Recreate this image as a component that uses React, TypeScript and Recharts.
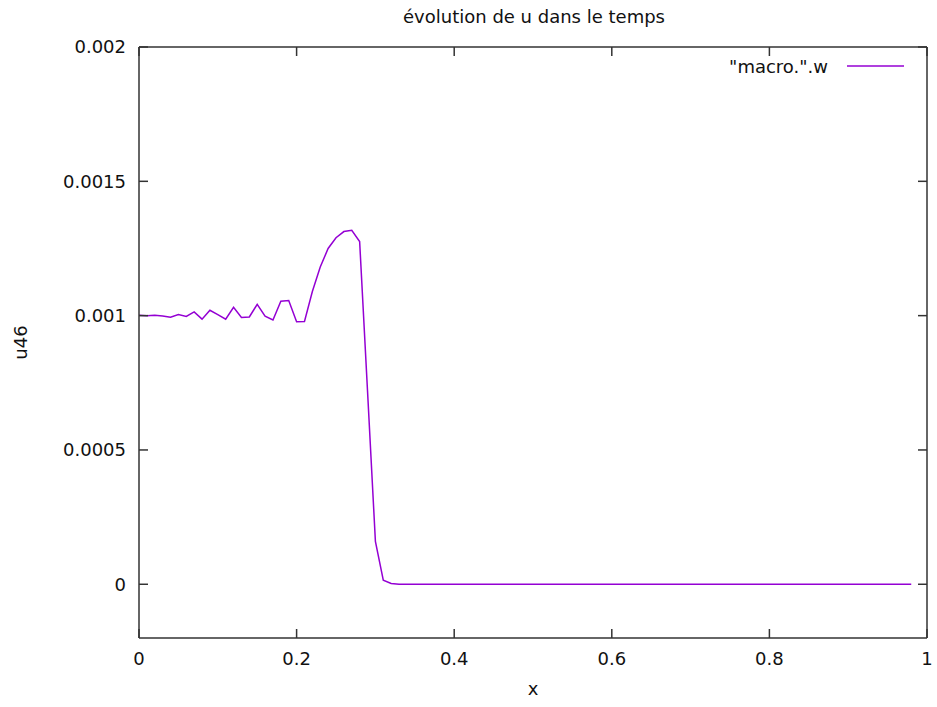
import React from 'react';
import { LineChart, Line, XAxis, YAxis, Label } from 'recharts';

const xValues = [
  0, 0.01, 0.02, 0.03, 0.04, 0.05, 0.06, 0.07, 0.08, 0.09,
  0.1, 0.11, 0.12, 0.13, 0.14, 0.15, 0.16, 0.17, 0.18, 0.19,
  0.2, 0.21, 0.22, 0.23, 0.24, 0.25, 0.26, 0.27, 0.28, 0.29,
  0.3, 0.31, 0.32, 0.33, 0.34, 0.35, 0.36, 0.37, 0.38, 0.39,
  0.4, 0.41, 0.42, 0.43, 0.44, 0.45, 0.46, 0.47, 0.48, 0.49,
  0.5, 0.51, 0.52, 0.53, 0.54, 0.55, 0.56, 0.57, 0.58, 0.59,
  0.6, 0.61, 0.62, 0.63, 0.64, 0.65, 0.66, 0.67, 0.68, 0.69,
  0.7, 0.71, 0.72, 0.73, 0.74, 0.75, 0.76, 0.77, 0.78, 0.79,
  0.8, 0.81, 0.82, 0.83, 0.84, 0.85, 0.86, 0.87, 0.88, 0.89,
  0.9, 0.91, 0.92, 0.93, 0.94, 0.95, 0.96, 0.97, 0.98,
];

const uValues = [
  0.001001, 0.001, 0.001001, 0.000999, 0.000994, 0.001004, 0.000997, 0.001014, 0.000987, 0.00102,
  0.001004, 0.000987, 0.001031, 0.000993, 0.000995, 0.001042, 0.000998, 0.000984, 0.001054, 0.001056,
  0.000977, 0.000978, 0.00109, 0.001181, 0.00125, 0.00129, 0.001313, 0.001318, 0.001276, 0.00072,
  0.00016, 0.000015, 0.000003, 0, 0, 0, 0, 0, 0, 0,
  0, 0, 0, 0, 0, 0, 0, 0, 0, 0,
  0, 0, 0, 0, 0, 0, 0, 0, 0, 0,
  0, 0, 0, 0, 0, 0, 0, 0, 0, 0,
  0, 0, 0, 0, 0, 0, 0, 0, 0, 0,
  0, 0, 0, 0, 0, 0, 0, 0, 0, 0,
  0, 0, 0, 0, 0, 0, 0, 0, 0,
];

const xTicks = [0, 0.2, 0.4, 0.6, 0.8, 1];
const yTicks = [0, 0.0005, 0.001, 0.0015, 0.002];

const data = xValues.map((x, i) => ({ x, u: uValues[i] }));

const FONT = 'DejaVu Sans';
const FS = 18;
const INK = '#111';
const BORDER = '#333';
const LINE_COLOR = '#9400d3';
const TICK = 9;

const BottomTick = (props: any) => {
  const { x, y, payload } = props;
  return (
    <g>
      <line x1={x} y1={y} x2={x} y2={y - TICK} stroke={BORDER} strokeWidth={1.5} />
      <text x={x} y={y + 21} dy="0.35em" textAnchor="middle" fontFamily={FONT} fontSize={FS} fill={INK}>
        {String(payload.value)}
      </text>
    </g>
  );
};

const TopTick = (props: any) => {
  const { x, y } = props;
  return <line x1={x} y1={y} x2={x} y2={y + TICK} stroke={BORDER} strokeWidth={1.5} />;
};

const LeftTick = (props: any) => {
  const { x, y, payload } = props;
  return (
    <g>
      <line x1={x} y1={y} x2={x + TICK} y2={y} stroke={BORDER} strokeWidth={1.5} />
      <text x={x - 13} y={y} dy="0.35em" textAnchor="end" fontFamily={FONT} fontSize={FS} fill={INK}>
        {String(payload.value)}
      </text>
    </g>
  );
};

const RightTick = (props: any) => {
  const { x, y } = props;
  return <line x1={x} y1={y} x2={x - TICK} y2={y} stroke={BORDER} strokeWidth={1.5} />;
};

export default function App() {
  return (
    <div style={{ position: 'absolute', left: 0, top: 0, width: 937, height: 707, background: '#fff' }}>
      <LineChart width={937} height={707} data={data} margin={{ top: 0, right: 0, bottom: 0, left: 0 }}>
        <XAxis
          dataKey="x"
          type="number"
          domain={[0, 1]}
          ticks={xTicks}
          height={69}
          tickSize={0}
          tickMargin={0}
          tick={<BottomTick />}
          axisLine={{ stroke: BORDER, strokeWidth: 1.5 }}
          allowDataOverflow
        >
          <Label
            content={(p: any) => (
              <text x={p.viewBox.x + p.viewBox.width / 2} y={695} textAnchor="middle" fontFamily={FONT} fontSize={FS} fill={INK}>
                x
              </text>
            )}
          />
        </XAxis>
        <XAxis
          xAxisId="top"
          orientation="top"
          dataKey="x"
          type="number"
          domain={[0, 1]}
          ticks={xTicks}
          height={47}
          tickSize={0}
          tickMargin={0}
          tick={<TopTick />}
          axisLine={{ stroke: BORDER, strokeWidth: 1.5 }}
          allowDataOverflow
        />
        <YAxis
          type="number"
          domain={[-0.0002, 0.002]}
          ticks={yTicks}
          width={139}
          tickSize={0}
          tickMargin={0}
          tick={<LeftTick />}
          axisLine={{ stroke: BORDER, strokeWidth: 1.5 }}
          allowDataOverflow
        >
          <Label
            content={(p: any) => {
              const cy = p.viewBox.y + p.viewBox.height / 2;
              return (
                <text
                  x={21}
                  y={cy}
                  dy="0.35em"
                  textAnchor="middle"
                  transform={`rotate(-90 21 ${cy})`}
                  fontFamily={FONT}
                  fontSize={FS}
                  fill={INK}
                >
                  u46
                </text>
              );
            }}
          />
        </YAxis>
        <YAxis
          yAxisId="right"
          orientation="right"
          type="number"
          domain={[-0.0002, 0.002]}
          ticks={yTicks}
          width={10}
          tickSize={0}
          tickMargin={0}
          tick={<RightTick />}
          axisLine={{ stroke: BORDER, strokeWidth: 1.5 }}
          allowDataOverflow
        />
        <Line
          type="linear"
          dataKey="u"
          name={'"macro.".w'}
          stroke={LINE_COLOR}
          strokeWidth={1.5}
          dot={false}
          isAnimationActive={false}
        />
      </LineChart>
      <svg
        width={937}
        height={707}
        style={{ position: 'absolute', left: 0, top: 0, pointerEvents: 'none' }}
      >
        <text x={534} y={23} textAnchor="middle" fontFamily={FONT} fontSize={FS} fill={INK}>
          évolution de u dans le temps
        </text>
        <text x={828} y={73} textAnchor="end" fontFamily={FONT} fontSize={FS} fill={INK}>
          "macro.".w
        </text>
        <line x1={847} y1={66} x2={904} y2={66} stroke={LINE_COLOR} strokeWidth={1.5} />
      </svg>
    </div>
  );
}
